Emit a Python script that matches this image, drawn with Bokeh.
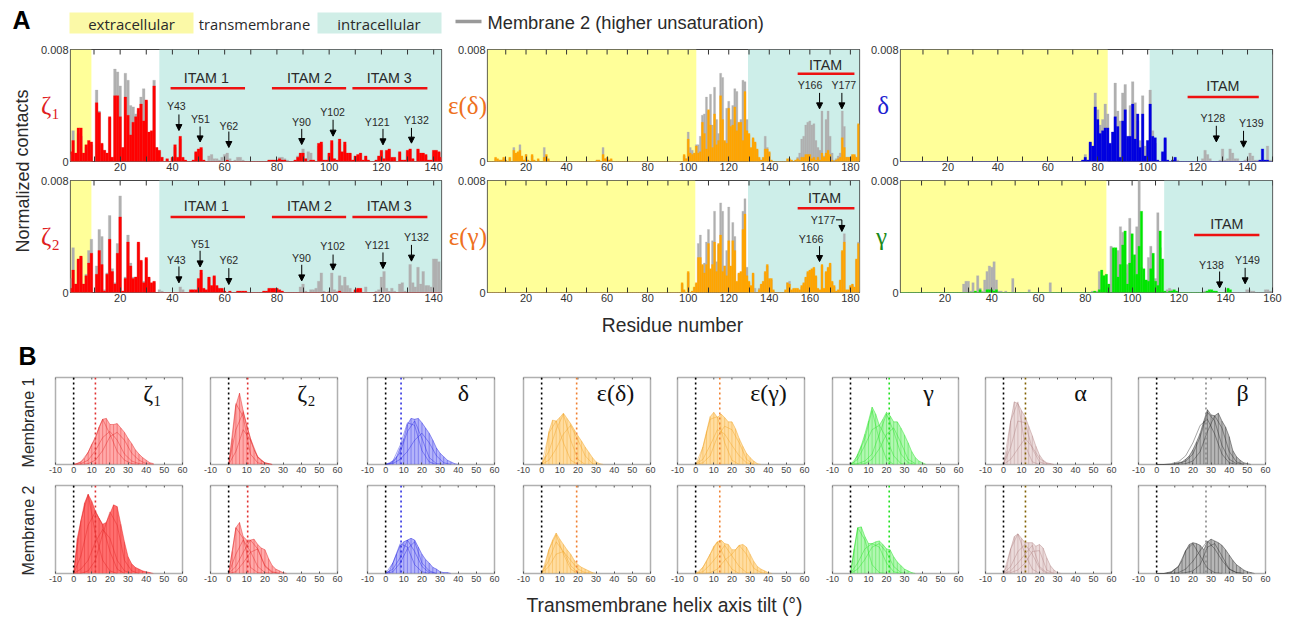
from bokeh.plotting import figure
from bokeh.layouts import column, row
from bokeh.models import FixedTicker, Label, Span, Arrow, NormalHead
from bokeh.core.properties import value
from bokeh.embed import file_html
from bokeh.resources import INLINE

SANS = "Liberation Sans"
SERIF = "Liberation Serif"

# ---------- Panel A: normalized contacts per residue, in units of 1e-4 ----------
Z1_C = [7,15,6,24,24,6,12,15,14,0, 42,35,13,8,6,32,3,47,47,32, 10,46,33,19,28,32,38,41,29,44,
        21,22,54,10,8,3,0,2,0,3, 12,3,18,3,1,0,0,1,7,9, 10,1,0,0,0,0,0,0,0,0,
        1,0,0,0,0,0,0,0,0,0, 0,0,0,0,0,0,1,1,1,1, 2,1,1,0,0,0,1,3,6,6,
        2,0,1,1,0,13,14,1,1,6, 15,2,1,16,7,14,6,6,1,4, 5,6,1,4,1,0,0,1,4,8,
        2,8,9,3,3,0,7,1,1,8, 9,2,0,9,6,6,5,1,1,8,8,7,3]
Z1_G = [5,22,5,20,18,5,10,12,12,0, 51,36,12,8,5,31,3,66,64,54, 10,63,58,40,39,34,36,46,52,43,
        20,21,58,10,7,3,0,1,0,2, 10,2,16,2,0,0,0,1,6,8, 9,1,0,4,5,2,2,1,3,5,
        6,2,0,1,3,3,1,0,0,0, 0,0,0,0,0,0,1,1,1,1, 3,3,2,1,0,0,1,4,5,9,
        2,7,6,1,0,11,12,1,1,5, 13,2,1,14,6,12,5,5,1,3, 4,5,1,3,1,0,0,1,3,7,
        2,7,8,2,2,0,6,1,1,7, 8,2,0,8,5,5,4,1,1,7,7,6,3]
Z2_C = [3,16,6,24,26,6,12,21,28,0, 13,30,20,1,13,38,15,6,28,54, 1,10,36,19,10,11,36,23,7,25,
        11,7,8,0,0,0,0,0,0,0, 0,0,0,0,0,0,2,2,2,10, 16,3,2,11,5,12,5,3,3,1,
        0,1,0,0,1,1,1,1,0,0, 0,0,0,0,1,1,3,3,3,3, 2,1,0,0,0,0,0,0,0,0,
        0,0,0,0,0,0,0,0,0,0, 0,0,0,1,0,0,0,0,0,2, 3,3,0,0,0,0,0,0,0,0,
        0,0,0,0,0,0,0,0,0,0, 0,0,0,0,0,0,0,0,0,0,0,0,0]
Z2_G = [10,32,6,23,25,6,13,30,38,0, 19,45,40,2,14,55,17,7,35,69, 1,11,41,21,11,11,35,22,8,24,
        10,6,7,0,2,1,0,0,0,0, 0,0,4,2,0,0,1,1,1,9, 14,2,1,10,4,11,4,2,2,0,
        0,0,0,0,0,0,0,0,0,0, 0,0,0,0,0,0,2,2,2,2, 1,1,0,0,0,0,0,0,4,6,
        1,0,2,2,3,8,14,1,0,1, 14,2,1,12,5,11,5,3,0,1, 2,2,0,4,0,0,0,1,2,11,
        15,3,1,3,1,0,6,7,1,0, 20,7,4,18,6,15,5,5,4,24,24,22,9]
ED_C = [0,0,0,0,3,2,1,1,3,1, 0,3,0,8,6,7,8,4,1,5, 1,0,5,1,0,2,0,0,3,5, 2] + [0]*23 + \
       [1,1,0,5,2,3,1,2] + [0]*35 + \
       [5,2,16,6,5,6,11,6,7,28, 20,9,37,26,10,34,12,15,47,30, 15,13,38,25,26,39,22,28,28,15, 50,22,
        20,10,17,14,9,3,1,3,9,9, 7,1,0,0,0,0,0,0,0,2, 2,1,0,1,2,1,3,3,5,5, 5,2,3,1,3,1,6,3,6,8,
        5,1,0,1,2,3,17,10,3,3, 3,5,5,3,27]
ED_G = [0,0,0,0,2,1,1,1,2,1, 0,2,0,10,5,6,12,3,1,5, 1,0,4,1,0,1,0,0,10,4, 1] + [0]*23 + \
       [1,1,0,10,2,2,1,1] + [0]*35 + \
       [4,2,21,10,8,5,12,12,18,33, 34,46,36,48,26,53,30,20,63,60, 14,38,43,30,40,52,50,27,30,58, 57,30,
        19,9,16,13,8,2,1,2,18,10, 6,1,0,0,0,0,0,0,0,1, 1,1,0,1,3,6,16,18,26,28, 29,26,27,15,10,8,36,4,30,36,
        18,6,1,2,4,6,36,25,3,3, 3,4,4,3,26]
EG_C = [0]*96 + [7,2,0,15,0,1,4,7,25,25, 20,14,20,35,17,20,36,15,35,41, 15,19,12,37,19,37,30,8,14,15, 45,56,12,
        8,5,14,0,0,2,6,8,15,20, 10,10,2,0,0,0,0,0,2,7, 6,2,3,3,3,2,5,7,11,15, 16,17,18,12,3,2,20,3,15,18,
        21,8,5,1,2,9,30,36,2,2, 5,6,4,24,35]
EG_G = [0]*96 + [6,1,0,14,0,1,3,6,35,41, 19,21,36,45,16,37,58,22,34,64, 58,19,30,61,18,50,40,7,13,14, 58,67,18,
        7,4,13,3,0,3,5,7,14,19, 9,9,1,0,0,0,0,0,1,7, 8,1,2,2,2,1,4,6,10,14, 15,16,17,11,2,1,19,2,14,17,
        20,7,4,1,1,8,29,42,1,1, 4,5,3,23,36]
D_C = [0]*73 + [1,3,1,14,11,39,30,20,22,24, 24,13,21,32,25,3,29,37,18,18, 41,16,34,10,34,4,15,41,18,17,
       1,0,7,17,1,0,1,3] + [0]*33 + [1,9,1,1,0,0]
D_G = [0]*73 + [1,5,1,13,10,49,37,26,30,41, 34,11,21,56,36,29,49,55,16,40, 57,42,29,15,47,11,15,51,22,13,
       1,0,6,16,1,0,1,2,1,0, 0,0,0,0,0,0,0,0,2,8, 5,2,0,0,0,1,9,1,2,9, 6,2,2,0,0,1,2,6,4,1, 1,1,0,1,11,1,1,0,0]
G_C = [0]*31 + [0,1,0,2,0,0,2,2,2,1, 2] + [0]*41 + [1,0,2,16,12,13,6,0,32,32, 11,20,34,44,6,21,42,27,13,33,
       58,17,9,8,17,28,8,5,44,24, 1,0,1,1,2,1] + [0]*12 + [1,2,2,1,1,0,0,0,0,3, 2]
G_G = [0]*27 + [6,8,8,1,7,0,12,3,1,9, 15,19,18,22,9,1,1,0,1,0,0,10] + [0]*6 + [2] + [0]*8 + [7] + [0]*17 + \
      [1,0,1,15,11,12,5,0,33,31, 10,30,47,43,14,20,53,26,12,47,
       81,18,8,7,25,33,7,10,57,32, 1,0,2,3,2,1] + [0]*12 + [1,1,1,1,1,0,0,0,0,2, 1,0,0,0,0,0,0,0,2,2, 1,1,0,0,0,0,2,2,1,1]

RES_RANGES = {"Z": (1, 143), "E": (1, 184.5), "D": (1, 150), "G": (1, 160)}

# zone limits: yellow end, white end
Z_ZONES = (9, 35)
E1_ZONES = (104, 129.5)
E2_ZONES = (103.5, 129.5)
D_ZONES = (84, 100.8)
G_ZONES = (89, 113.7)

Z_TICKS = [20, 40, 60, 80, 100, 120, 140]
E_TICKS = [20, 40, 60, 80, 100, 120, 140, 160, 180]
D_TICKS = [20, 40, 60, 80, 100, 120, 140]
G_TICKS = [20, 40, 60, 80, 100, 120, 140, 160]

# ITAM: label, start, end, line y, text x, text y (y in 1e-3)
ITAM_Z1 = [("ITAM 1", 39.3, 67.8, 5.24, 53.0, 6.0), ("ITAM 2", 78.1, 106.5, 5.24, 92.5, 6.0), ("ITAM 3", 108.9, 137.6, 5.24, 123.0, 6.0)]
ITAM_Z2 = [("ITAM 1", 39.3, 67.8, 5.4, 53.0, 6.17), ("ITAM 2", 78.1, 106.5, 5.4, 92.5, 6.17), ("ITAM 3", 108.9, 137.6, 5.4, 123.0, 6.17)]
ITAM_ED = [("ITAM", 154, 182, 6.26, 167.8, 6.9)]
ITAM_EG = [("ITAM", 154, 182, 6.02, 167.3, 6.74)]
ITAM_D = [("ITAM", 116, 144.5, 4.6, 130.1, 5.38)]
ITAM_G = [("ITAM", 126.5, 154.4, 4.1, 140.5, 4.86)]

# Tyrosines: label, text x, text y, arrow x, arrow y start, arrow y end
TYR_Z1 = [("Y43",41.5,3.93,42.5,3.36,2.21),("Y51",50.7,3.07,50.6,2.5,1.4),("Y62",61.6,2.57,61.6,2.14,1.0),
          ("Y90",89.4,2.79,89.5,2.33,1.21),("Y102",101.3,3.52,101.5,2.98,1.81),("Y121",118.4,2.81,120.6,2.33,1.19),
          ("Y132",133.4,2.98,131.5,2.4,1.31)]
TYR_Z2 = [("Y43",41.5,2.31,42.5,1.86,0.69),("Y51",50.7,3.5,50.6,2.98,1.83),("Y62",61.6,2.29,61.6,1.74,0.57),
          ("Y90",89.4,2.48,89.5,1.98,0.83),("Y102",101.3,3.29,101.5,2.71,1.6),("Y121",118.4,3.4,120.6,2.86,1.71),
          ("Y132",133.4,3.95,131.5,3.4,2.24)]
TYR_ED = [("Y166",160.1,5.43,164.8,4.9,3.76),("Y177",176.8,5.43,175.8,4.9,3.76)]
TYR_EG = [("Y166",160.6,3.83,164.8,3.31,2.21),("Y177",166.5,5.21,175.8,5.19,4.36)]
TYR_D = [("Y128",126.1,3.1,127.5,2.55,1.4),("Y139",141.5,2.74,138.4,2.19,1.02)]
TYR_G = [("Y138",133.9,2.0,137.4,1.5,0.33),("Y149",149.3,2.29,148.3,1.76,0.62)]
Y177_ELBOW = (172.9, 175.8, 5.19)

# ---------- Panel B: tilt distributions, percent of panel height ----------
# ENV: 2 degree bins from 0; C: components in 4 degree bins from 0
Z1_M1_ENV = [0,1,3,7,14,23,30,43,52,53,46,46,47,42,37,30,24,17,12,8,5,2,1]
Z1_M1_C = [[0,3,14,32,52,35,15,5,1,0],[0,1,5,16,31,38,28,12,4,1,0],[0,0,1,5,16,32,37,28,13,5,1,0]]
Z1_M2_ENV = [0,40,60,80,90,82,71,63,56,58,68,78,76,56,36,19,11,7,5,3,2,1,0]
Z1_M2_C = [[0,60,90,45,15,3,0],[0,20,55,70,55,25,5,0],[0,5,15,36,50,40,15,3,0],[0,0,3,15,45,70,55,15,3,0]]
Z2_M1_ENV = [0,30,68,82,62,45,30,17,9,5,2,1,0]
Z2_M1_C = [[0,70,55,12,2,0],[0,40,60,30,9,2,0],[0,15,40,28,8,1,0]]
Z2_M2_ENV = [0,25,52,58,42,38,38,39,33,29,27,17,9,5,3,1,0]
Z2_M2_C = [[0,52,40,7,1,0],[0,22,38,25,8,1,0],[0,8,24,38,28,8,1,0],[0,2,12,24,28,9,2,0]]
DL_M1_ENV = [0,1,4,9,19,30,46,53,52,53,48,42,36,28,19,13,9,5,3,1,0]
DL_M1_C = [[0,4,22,48,45,16,3,0],[0,2,14,38,50,30,8,1,0],[0,1,6,15,28,36,25,10,2,0]]
DL_M2_ENV = [0,3,12,22,32,36,38,40,38,30,22,16,12,7,5,2,1,1,0]
DL_M2_C = [[0,12,34,30,10,2,0],[0,5,18,38,25,8,1,0],[0,2,12,28,36,12,3,0]]
ED_M1_ENV = [0,10,38,51,50,54,59,53,47,40,33,27,20,14,8,3,1,0]
ED_M1_C = [[0,36,50,25,5,0],[0,15,40,58,28,6,0],[0,5,18,35,45,28,10,1,0]]
ED_M2_ENV = [0,10,27,38,46,39,33,27,22,15,10,7,5,3,1,0]
ED_M2_C = [[0,27,44,22,5,0],[0,15,36,25,9,1,0],[0,8,22,25,15,5,1,0]]
EG_M1_ENV = [0,6,20,38,55,60,54,58,54,49,49,41,30,21,13,8,4,1,0]
EG_M1_C = [[0,20,52,55,25,5,0],[0,6,22,40,35,22,10,2,0],[0,2,10,32,44,40,25,6,0]]
EG_M2_ENV = [0,2,7,14,22,31,36,38,34,33,27,27,32,33,30,22,14,8,5,3,1,0]
EG_M2_C = [[0,7,22,36,18,5,0],[0,2,10,20,32,20,8,1,0],[0,0,1,5,15,22,32,22,6,1,0]]
GM_M1_ENV = [0,3,12,22,35,50,66,58,45,52,60,56,49,49,42,34,25,15,8,4,2,0]
GM_M1_C = [[0,10,30,62,28,6,0],[0,6,22,40,45,30,10,1,0],[0,1,4,12,35,58,38,12,2,0],[0,0,1,6,18,35,42,25,6,1]]
GM_M2_ENV = [0,28,52,53,42,34,34,36,37,33,28,27,19,13,9,5,3,1,0]
GM_M2_C = [[0,52,38,10,1,0],[0,12,28,34,30,12,2,0],[0,5,16,30,34,24,8,1,0]]
AL_M1_ENV = [0,16,50,72,70,62,55,44,33,21,11,5,2,1,0]
AL_M1_C = [[0,50,72,22,3,0],[0,20,50,48,18,3,0],[0,6,18,30,20,7,1,0]]
AL_M2_ENV = [0,10,28,42,45,40,35,35,35,31,33,29,18,9,4,1,0]
AL_M2_C = [[0,28,45,22,5,0],[0,8,25,33,22,6,0],[0,3,12,22,32,8,1,0],[0,1,4,12,25,26,4,0]]
BE_M1_ENV = [0,0,0,0,0,1,2,3,6,10,17,26,36,50,63,57,56,59,50,43,32,16,9,5,2,1,0]
BE_M1_C = [[0,0,1,3,10,25,45,52,35,12,2,0],[0,0,0,1,4,12,32,60,50,22,6,1,0],[0,0,0,0,1,4,15,38,56,42,15,3,0]]
BE_M2_ENV = [0,0,0,1,2,5,8,15,26,33,35,34,32,27,36,39,37,35,32,27,21,15,10,7,4,2,1,0]
BE_M2_C = [[0,0,1,8,26,34,20,6,1,0],[0,0,0,1,5,14,26,37,28,15,5,1,0],[0,0,0,0,1,3,10,30,34,20,5,1,0]]

MEANS = [12, 10.5, 8.5, 19.3, 13.3, 21.5, 12.2, 27.2]
TILT_TICKS = [-10, 0, 10, 20, 30, 40, 50, 60]
TILT_LABELS = {-10: "-10"}

YELLOW = "#ffff99"
TEAL = "#cdeee9"
GRAY = "#b0b0b0"
TXT = "#2a2a2a"


def base_fig(w, h, l, r, t, b, xr, yr):
    p = figure(width=w, height=h, x_range=xr, y_range=yr, tools="", toolbar_location=None,
               output_backend="svg", min_border_left=l, min_border_right=r,
               min_border_top=t, min_border_bottom=b, background_fill_color="white",
               border_fill_color=None)
    p.grid.visible = False
    return p


def strip(x0, x1, y0, y1):
    """Whole-canvas figure whose ranges are the page's own pixels."""
    p = base_fig(x1 - x0, y1 - y0, 0, 0, 0, 0, (x0, x1), (y1, y0))
    p.xaxis.visible = False
    p.yaxis.visible = False
    p.outline_line_color = None
    return p


def stext(p, txt, x, y, size, color=TXT, font=SANS, style="normal", align="center", angle=0.0):
    p.text([x], [y], text=[txt], text_font=value(font), text_font_style=style,
           text_font_size=f"{size}px", text_color=color, text_align=align,
           text_baseline="middle", angle=angle)


def panel_a(w, h, l, r, t, b, rng, colr, gray, color, zones, ticks, itam, tyr, name, name_color, name_off, elbow=None):
    p = base_fig(w, h, l, r, t, b, rng, (0, 0.008))
    p.quad(left=[rng[0]], right=[zones[0]], bottom=[0], top=[0.008], color=YELLOW, line_color=None)
    p.quad(left=[zones[1]], right=[rng[1]], bottom=[0], top=[0.008], color=TEAL, line_color=None)
    xs = list(range(1, len(gray) + 1))
    p.vbar(x=xs, top=[v * 1e-4 for v in gray], width=1.0, color=GRAY, line_color=GRAY, line_width=0.3)
    xs = list(range(1, len(colr) + 1))
    p.vbar(x=xs, top=[v * 1e-4 for v in colr], width=1.0, color=color, line_color=color, line_width=0.3)
    for lab, a, z, y, tx, ty in itam:
        p.line([a, z], [y * 1e-3, y * 1e-3], color="#ee1111", line_width=2.5)
        p.text([tx], [ty * 1e-3], text=[lab], text_font=value(SANS), text_font_size="14.3px",
               text_color=TXT, text_align="center", text_baseline="middle")
    for lab, tx, ty, ax, y0, y1 in tyr:
        p.text([tx], [ty * 1e-3], text=[lab], text_font=value(SANS), text_font_size="10.6px",
               text_color=TXT, text_align="center", text_baseline="middle")
        p.add_layout(Arrow(end=NormalHead(size=6, fill_color="black", line_color="black"),
                           x_start=ax, y_start=y0 * 1e-3, x_end=ax, y_end=y1 * 1e-3,
                           line_color="black", line_width=1))
    if elbow:
        p.line([elbow[0], elbow[1]], [elbow[2] * 1e-3, elbow[2] * 1e-3], color="black", line_width=1)
    minor = list(range(10, int(rng[1]) + 1, 20))
    ax = p.xaxis[0]
    ax.ticker = FixedTicker(ticks=ticks, minor_ticks=minor)
    ax.major_tick_in = 5; ax.major_tick_out = 0
    ax.minor_tick_in = 5; ax.minor_tick_out = 0
    ax.major_label_standoff = 1
    ax.major_label_text_font = SANS
    ax.major_label_text_font_size = "11px"
    ax.major_label_text_color = "#333333"
    ax.axis_line_color = None
    ax.major_tick_line_color = "#333333"
    ax.minor_tick_line_color = "#333333"
    top_x = ticks + minor
    p.segment(x0=top_x, x1=top_x, y0=[0.008] * len(top_x), y1=[0.008 * (1 - 5 / 112)] * len(top_x),
              line_color="#333333", line_width=1)
    ay = p.yaxis[0]
    ay.ticker = FixedTicker(ticks=[0, 0.008])
    ay.major_label_overrides = {0: "0", 0.008: "0.008"}
    ay.major_tick_in = 0; ay.major_tick_out = 0; ay.minor_tick_in = 0; ay.minor_tick_out = 0
    ay.major_label_standoff = 2
    ay.major_label_text_font = SANS
    ay.major_label_text_font_size = "11px"
    ay.major_label_text_color = "#333333"
    ay.axis_line_color = None
    ay.axis_label = name
    ay.axis_label_orientation = "horizontal"
    ay.axis_label_standoff = name_off
    ay.axis_label_text_font = SERIF
    ay.axis_label_text_font_style = "normal"
    ay.axis_label_text_font_size = "25px"
    ay.axis_label_text_color = name_color
    p.outline_line_color = "#444444"
    p.outline_line_width = 1.2
    return p


def panel_b(w, h, l, r, t, b, env, comps, mean, fill, edge, mean_color, fill_alpha, frame_h):
    p = base_fig(w, h, l, r, t, b, (-10, 60), (0, 100))
    xs = [2 * i for i in range(len(env))]
    p.varea(x=xs, y1=[0] * len(env), y2=env, color=fill, alpha=fill_alpha)
    p.segment(x0=xs, y0=[0] * len(env), x1=xs, y1=env, color=edge, alpha=0.35, line_width=1)
    p.line(xs, env, color=edge, alpha=0.55, line_width=0.8)
    for c in comps:
        p.line([4 * i for i in range(len(c))], c, color=edge, alpha=0.5, line_width=0.8)
    p.add_layout(Span(location=0, dimension="height", line_color="black", line_dash="2 3", line_width=1.6))
    p.add_layout(Span(location=mean, dimension="height", line_color=mean_color, line_dash="2 3", line_width=1.6))
    ax = p.xaxis[0]
    ax.ticker = FixedTicker(ticks=TILT_TICKS)
    ax.major_label_overrides = TILT_LABELS
    ax.major_tick_in = 2; ax.major_tick_out = 0; ax.minor_tick_in = 0; ax.minor_tick_out = 0
    ax.major_label_standoff = 2
    ax.major_label_text_font = SANS
    ax.major_label_text_font_size = "9px"
    ax.major_label_text_color = "#444444"
    ax.axis_line_color = None
    ax.major_tick_line_color = "#555555"
    p.segment(x0=TILT_TICKS, x1=TILT_TICKS, y0=[100] * 8, y1=[100 * (1 - 2 / frame_h)] * 8,
              line_color="#555555", line_width=1)
    p.yaxis.visible = False
    p.outline_line_color = "#b0b0b0"
    p.outline_line_width = 1.5
    return p


# ---------- header ----------
hdr = strip(8, 1284, 0, 38)
hdr.quad(left=[69], right=[193], top=[12], bottom=[33], color="#fbf9a7", line_color=None)
hdr.quad(left=[317], right=[441], top=[12], bottom=[33], color="#d0eee7", line_color=None)
hdr.line([455, 481], [21, 21], color="#999999", line_width=3.5)
stext(hdr, "extracellular", 131, 23, 15, font="Open Sans")
stext(hdr, "transmembrane", 254, 23, 14.7, font="Open Sans")
stext(hdr, "intracellular", 378.5, 23, 15, font="Open Sans")
stext(hdr, "Membrane 2 (higher unsaturation)", 487, 21.5, 18.3, align="left")
stext(hdr, "A", 12, 19, 25, "black", style="bold", align="left")

# ---------- panel A ----------
RED, ORANGE, BLUE, GREEN = "#ff0000", "#ffa500", "#0000e0", "#00e600"
R1 = (137, 11, 14)
R2 = (137, 5, 20)
a1 = panel_a(408, R1[0], 32, 4, R1[1], R1[2], RES_RANGES["Z"], Z1_C, Z1_G, RED, Z_ZONES, Z_TICKS, ITAM_Z1, TYR_Z1, "ζ₁", "#e02020", -22)
a2 = panel_a(419, R1[0], 42, 5, R1[1], R1[2], RES_RANGES["E"], ED_C, ED_G, ORANGE, E1_ZONES, E_TICKS, ITAM_ED, TYR_ED, "ε(δ)", "#ee7020", -32)
a3 = panel_a(420, R1[0], 36, 12, R1[1], R1[2], RES_RANGES["D"], D_C, D_G, BLUE, D_ZONES, D_TICKS, ITAM_D, TYR_D, "δ", "#2020d0", -21)
a4 = panel_a(408, R2[0], 32, 4, R2[1], R2[2], RES_RANGES["Z"], Z2_C, Z2_G, RED, Z_ZONES, Z_TICKS, ITAM_Z2, TYR_Z2, "ζ₂", "#e02020", -22)
a5 = panel_a(419, R2[0], 42, 5, R2[1], R2[2], RES_RANGES["E"], EG_C, EG_G, ORANGE, E2_ZONES, E_TICKS, ITAM_EG, TYR_EG, "ε(γ)", "#ee7020", -32, Y177_ELBOW)
a6 = panel_a(420, R2[0], 36, 12, R2[1], R2[2], RES_RANGES["G"], G_C, G_G, GREEN, G_ZONES, G_TICKS, ITAM_G, TYR_G, "γ", "#1a8a1a", -19)

left_a = strip(8, 37, 38, 312)
stext(left_a, "Normalized contacts", 22, 170.5, 18, angle=1.5708)
mid = strip(8, 1284, 312, 372)
stext(mid, "Residue number", 672, 325, 19.3)
stext(mid, "B", 18, 355, 25, "black", style="bold", align="left")

# ---------- panel B ----------
FR = "#ff5555"; ER = "#e02020"
FB = "#6a6af5"; EB = "#2020e0"
FO = "#ffbb44"; EO = "#f0a020"
FG = "#66f066"; EG2 = "#20e020"
FA = "#d8b8b8"; EA = "#b08080"
FK = "#707070"; EK = "#202020"
COLS = [(152, 13, 12), (158, 16, 15), (157, 15, 15), (154, 14, 13), (155, 14, 14), (154, 14, 14), (153, 13, 14), (159, 13, 19)]
RB1 = (107, 5, 15, 87)
RB2 = (115, 6, 21, 88)
STY = [(FR, ER, "#e03030"), (FR, ER, "#e03030"), (FB, EB, "#3030e0"), (FO, EO, "#f08030"),
       (FO, EO, "#f08030"), (FG, EG2, "#20e020"), (FA, EA, "#806000"), (FK, EK, "#888888")]
M1 = [(Z1_M1_ENV, Z1_M1_C), (Z2_M1_ENV, Z2_M1_C), (DL_M1_ENV, DL_M1_C), (ED_M1_ENV, ED_M1_C),
      (EG_M1_ENV, EG_M1_C), (GM_M1_ENV, GM_M1_C), (AL_M1_ENV, AL_M1_C), (BE_M1_ENV, BE_M1_C)]
M2 = [(Z1_M2_ENV, Z1_M2_C), (Z2_M2_ENV, Z2_M2_C), (DL_M2_ENV, DL_M2_C), (ED_M2_ENV, ED_M2_C),
      (EG_M2_ENV, EG_M2_C), (GM_M2_ENV, GM_M2_C), (AL_M2_ENV, AL_M2_C), (BE_M2_ENV, BE_M2_C)]
TITLES = ["ζ₁", "ζ₂", "δ", "ε(δ)", "ε(γ)", "γ", "α", "β"]
TITLE_X = [152, 306, 463, 615, 768, 928, 1080, 1242]

r1, r2 = [], []
x_org = 42
for i, (w, l, r) in enumerate(COLS):
    f, e, mc = STY[i]
    alpha2 = 0.85 if i == 0 else 0.5
    p1 = panel_b(w, RB1[0], l, r, RB1[1], RB1[2], M1[i][0], M1[i][1], MEANS[i], f, e, mc, 0.5, RB1[3])
    p2 = panel_b(w, RB2[0], l, r, RB2[1], RB2[2], M2[i][0], M2[i][1], MEANS[i], f, e, mc, alpha2, RB2[3])
    p1.add_layout(Label(x=TITLE_X[i] - x_org, y=392 - 372, x_units="canvas", y_units="canvas", text=TITLES[i],
                        text_font=SERIF, text_font_size="24px", text_color="#111111",
                        text_align="center", text_baseline="middle"))
    r1.append(p1); r2.append(p2)
    x_org += w

left_b = strip(8, 42, 372, 594)
stext(left_b, "Membrane 1", 28, 422, 16, angle=1.5708)
stext(left_b, "Membrane 2", 28, 530, 16, angle=1.5708)
bot = strip(8, 1284, 594, 616)
stext(bot, "Transmembrane helix axis tilt (°)", 664, 605, 19.3)

root = column(
    hdr,
    row(left_a, column(row(a1, a2, a3, spacing=0), row(a4, a5, a6, spacing=0), spacing=0), spacing=0),
    mid,
    row(left_b, column(row(*r1, spacing=0), row(*r2, spacing=0), spacing=0), spacing=0),
    bot,
    spacing=0, margin=(0, 0, 0, 8))

open("out.html", "w").write(file_html(root, INLINE))
